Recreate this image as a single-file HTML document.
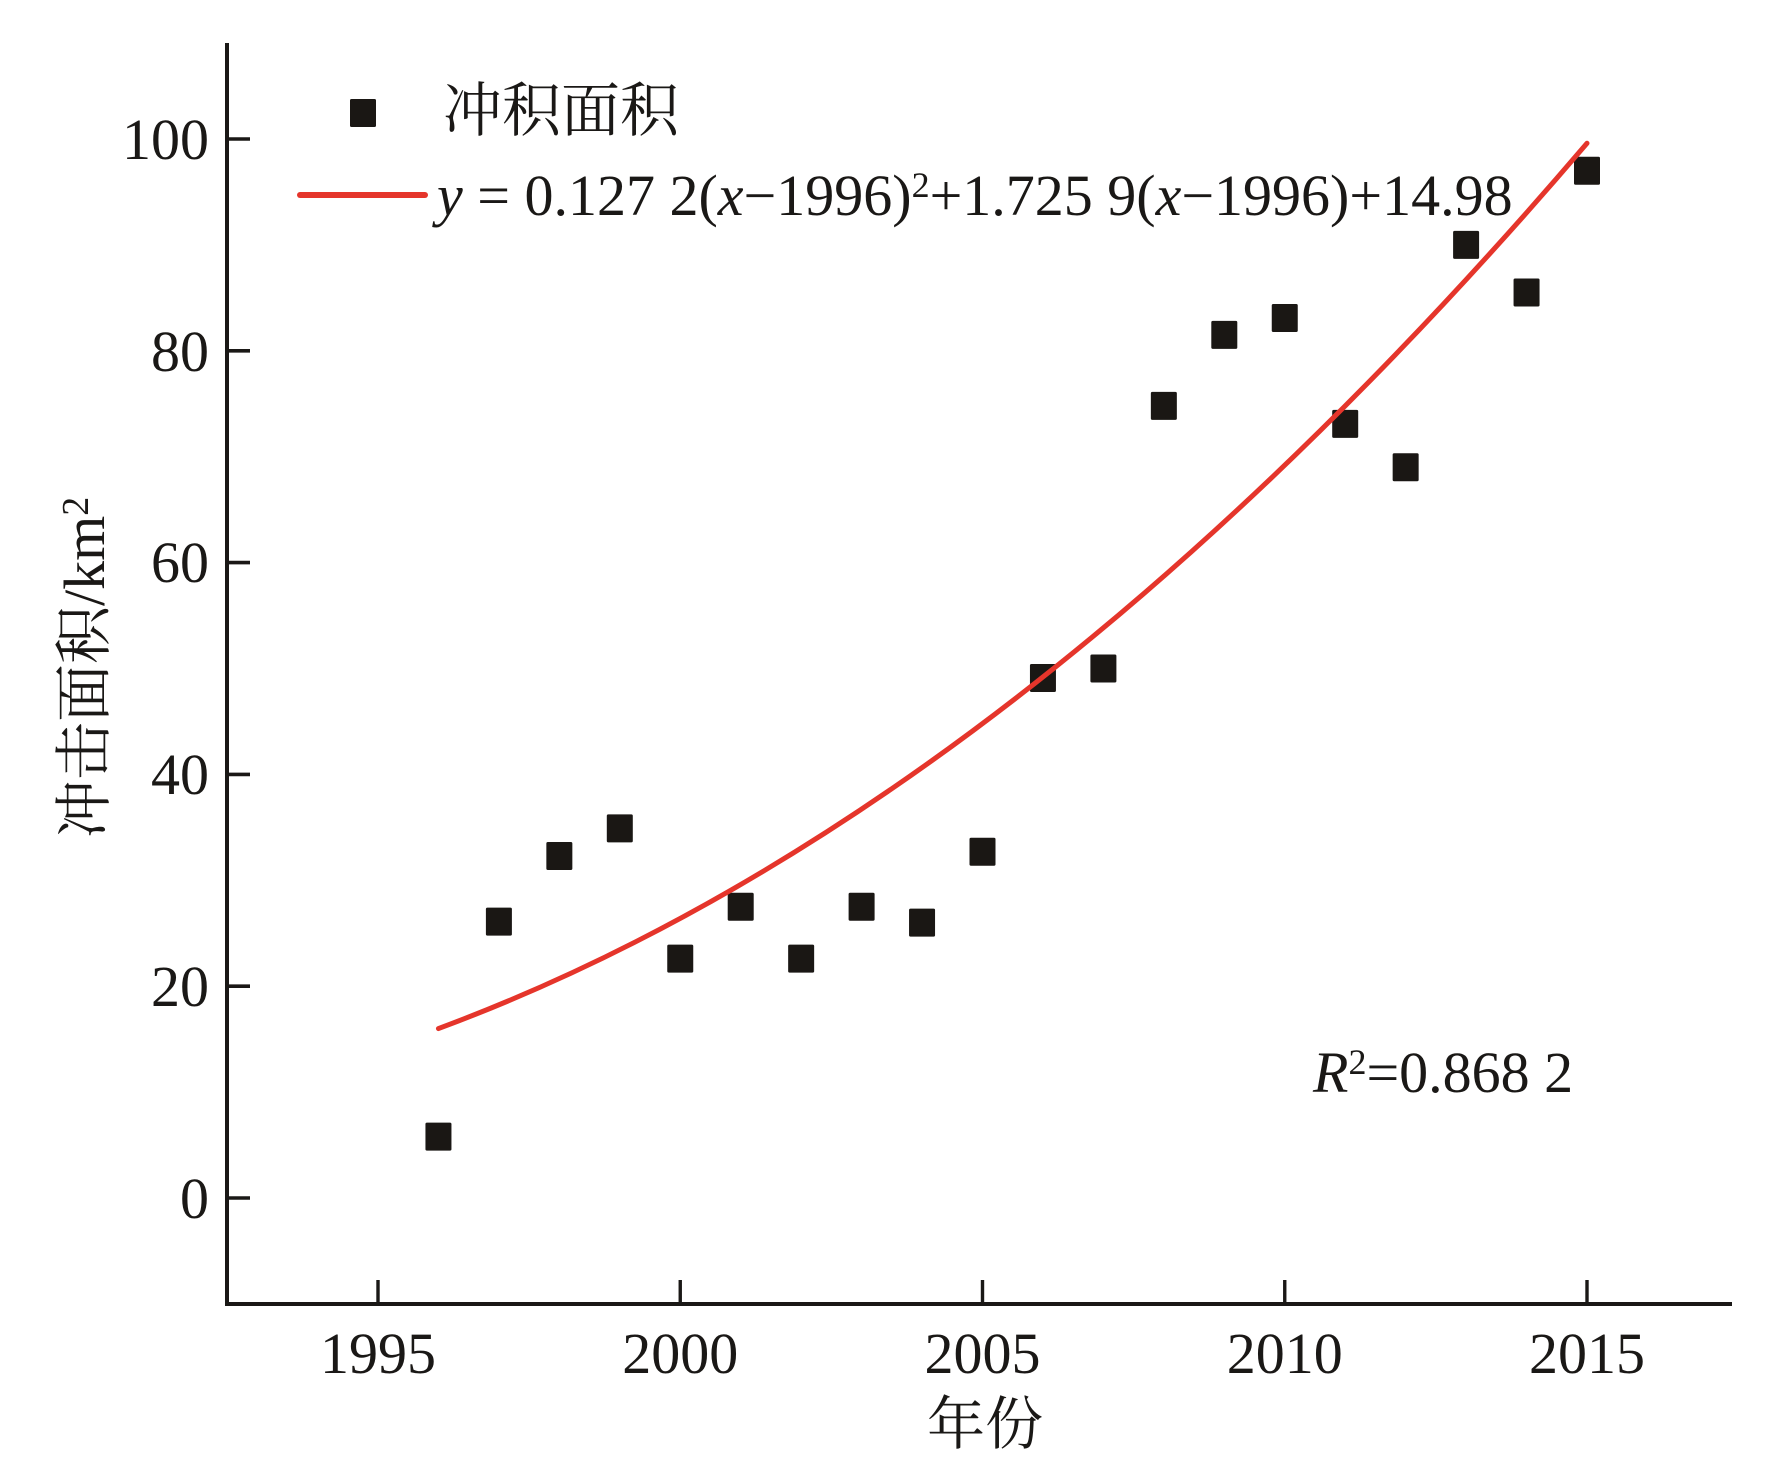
<!DOCTYPE html>
<html>
<head>
<meta charset="utf-8">
<style>
  html, body { margin: 0; padding: 0; background: #ffffff; }
  svg { display: block; }
  text { fill: #1a1816; }
</style>
</head>
<body>
<svg width="1772" height="1469" viewBox="0 0 1772 1469" xmlns="http://www.w3.org/2000/svg">
  <rect x="0" y="0" width="1772" height="1469" fill="#ffffff"/>

  <!-- axes -->
  <g stroke="#1a1816" fill="none">
    <line x1="227" y1="43" x2="227" y2="1306" stroke-width="4"/>
    <line x1="225" y1="1304" x2="1732" y2="1304" stroke-width="4"/>
    <!-- y ticks -->
    <g stroke-width="3.6">
      <line x1="227" y1="1198" x2="250" y2="1198"/>
      <line x1="227" y1="986.2" x2="250" y2="986.2"/>
      <line x1="227" y1="774.4" x2="250" y2="774.4"/>
      <line x1="227" y1="562.6" x2="250" y2="562.6"/>
      <line x1="227" y1="350.8" x2="250" y2="350.8"/>
      <line x1="227" y1="139" x2="250" y2="139"/>
    </g>
    <!-- x ticks -->
    <g stroke-width="3.4">
      <line x1="378" y1="1280" x2="378" y2="1304"/>
      <line x1="680.25" y1="1280" x2="680.25" y2="1304"/>
      <line x1="982.5" y1="1280" x2="982.5" y2="1304"/>
      <line x1="1284.75" y1="1280" x2="1284.75" y2="1304"/>
      <line x1="1587" y1="1280" x2="1587" y2="1304"/>
    </g>
  </g>

  <!-- y tick labels -->
  <g font-family="'Liberation Serif', serif" font-size="58" text-anchor="end">
    <text x="209" y="1218">0</text>
    <text x="209" y="1006">20</text>
    <text x="209" y="794">40</text>
    <text x="209" y="582">60</text>
    <text x="209" y="371">80</text>
    <text x="209" y="159">100</text>
  </g>

  <!-- x tick labels -->
  <g font-family="'Liberation Serif', serif" font-size="58" text-anchor="middle">
    <text x="378" y="1373">1995</text>
    <text x="680.25" y="1373">2000</text>
    <text x="982.5" y="1373">2005</text>
    <text x="1284.75" y="1373">2010</text>
    <text x="1587" y="1373">2015</text>
  </g>

  <!-- axis titles -->
  <text x="985" y="1444" font-family="'Liberation Serif', 'Noto Serif CJK SC', serif" font-size="58" text-anchor="middle">年份</text>
  <text transform="translate(104,838) rotate(-90)" x="0" y="0" font-family="'Liberation Serif', 'Noto Serif CJK SC', serif" font-size="58" style="white-space:pre">冲击面积/km<tspan font-size="38" dy="-16">2</tspan></text>

  <!-- data markers -->
  <g fill="#1a1714">
    <rect x="425.45" y="1122.58" width="26" height="28" rx="1.5"/>
    <rect x="485.9" y="907.6" width="26" height="28" rx="1.5"/>
    <rect x="546.35" y="841.94" width="26" height="28" rx="1.5"/>
    <rect x="606.8" y="814.41" width="26" height="28" rx="1.5"/>
    <rect x="667.25" y="944.67" width="26" height="28" rx="1.5"/>
    <rect x="727.7" y="892.77" width="26" height="28" rx="1.5"/>
    <rect x="788.15" y="944.67" width="26" height="28" rx="1.5"/>
    <rect x="848.6" y="892.77" width="26" height="28" rx="1.5"/>
    <rect x="909.05" y="908.66" width="26" height="28" rx="1.5"/>
    <rect x="969.5" y="837.71" width="26" height="28" rx="1.5"/>
    <rect x="1029.95" y="663.97" width="26" height="28" rx="1.5"/>
    <rect x="1090.4" y="654.5" width="26" height="28" rx="1.5"/>
    <rect x="1150.85" y="391.87" width="26" height="28" rx="1.5"/>
    <rect x="1211.3" y="320.91" width="26" height="28" rx="1.5"/>
    <rect x="1271.75" y="303.97" width="26" height="28" rx="1.5"/>
    <rect x="1332.2" y="409.87" width="26" height="28" rx="1.5"/>
    <rect x="1392.65" y="453.29" width="26" height="28" rx="1.5"/>
    <rect x="1453.1" y="230.9" width="26" height="28" rx="1.5"/>
    <rect x="1513.55" y="278.55" width="26" height="28" rx="1.5"/>
    <rect x="1574" y="156.77" width="26" height="28" rx="1.5"/>
  </g>

  <!-- fitted curve -->
  <path d="M438.45,1028.56 Q1012.73,815.28 1587,143.24" fill="none" stroke="#e5352b" stroke-width="5" stroke-linecap="round"/>

  <!-- legend -->
  <rect x="350" y="99" width="26" height="28" rx="1.5" fill="#1a1714"/>
  <text x="443" y="131" font-family="'Liberation Serif', 'Noto Serif CJK SC', serif" font-size="59">冲积面积</text>
  <line x1="300" y1="195" x2="425" y2="195" stroke="#e5352b" stroke-width="6" stroke-linecap="round"/>
  <text x="437" y="215" font-family="'Liberation Serif', serif" font-size="58" style="white-space:pre"><tspan font-style="italic">y</tspan> = 0.127 2(<tspan font-style="italic">x</tspan>−1996)<tspan font-size="36" dy="-18">2</tspan><tspan dy="18">+1.725 9(</tspan><tspan font-style="italic">x</tspan>−1996)+14.98</text>

  <!-- R squared -->
  <text x="1313" y="1092" font-family="'Liberation Serif', serif" font-size="58" style="white-space:pre"><tspan font-style="italic">R</tspan><tspan font-size="36" dy="-18">2</tspan><tspan dy="18">=0.868 2</tspan></text>
</svg>
</body>
</html>
